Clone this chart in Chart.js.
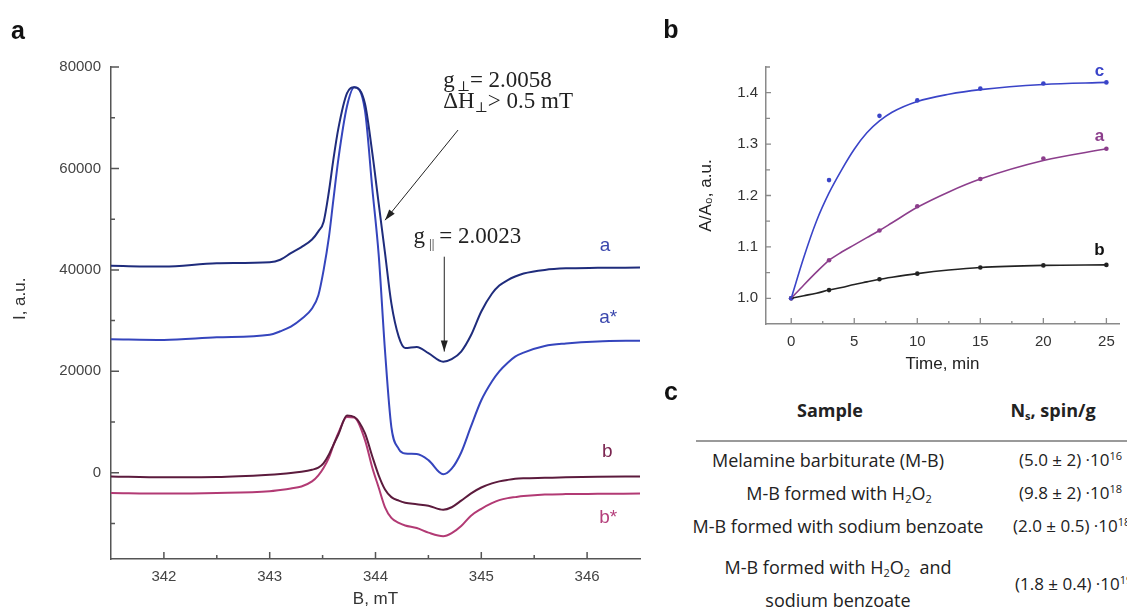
<!DOCTYPE html>
<html><head><meta charset="utf-8">
<script src="https://cdn.jsdelivr.net/npm/chart.js@4/dist/chart.umd.min.js"></script>
<style>
html,body{margin:0;padding:0;background:#fff;width:1127px;height:608px;overflow:hidden;position:relative;font-family:"Liberation Sans",Arial,sans-serif;}
#ca{position:absolute;left:0;top:0;}
#cb{position:absolute;left:660px;top:0;}
.pl{position:absolute;font-weight:bold;font-size:25px;line-height:30px;color:#111;transform:translate(-50%,-50%);}
.tb{position:absolute;font-family:"Open Sans",sans-serif;font-size:17px;line-height:24px;color:#222;white-space:nowrap;}
.r{font-size:18px;}
.c{transform:translate(-50%,-50%);}
.l{transform:translateY(-50%);}
.h{font-weight:bold;font-size:18px;}
.tb sub,.tb sup{font-size:11px;line-height:0;}
.tb sub{vertical-align:-3px;}
.tb sup{vertical-align:6px;}
#rule{position:absolute;left:696px;width:431px;top:440px;height:2px;background:#9a9a9a;}
</style></head>
<body>
<canvas id="ca" width="660" height="625"></canvas>
<canvas id="cb" width="467" height="390"></canvas>
<div class="pl" style="left:18px;top:30px">a</div>
<div class="pl" style="left:671px;top:29px">b</div>
<div class="pl" style="left:671px;top:391px">c</div>

<div class="tb h c" style="left:830px;top:410px">Sample</div>
<div class="tb h c" style="left:1053px;top:410px">N<sub>s</sub>, spin/g</div>
<div id="rule"></div>
<div class="tb r c" style="left:828px;top:460px">Melamine barbiturate (M-B)</div>
<div class="tb l" style="left:1019px;top:460px">(5.0 ± 2) ·10<sup>16</sup></div>
<div class="tb r c" style="left:839px;top:493px">M-B formed with H<sub>2</sub>O<sub>2</sub></div>
<div class="tb l" style="left:1019px;top:493px">(9.8 ± 2) ·10<sup>18</sup></div>
<div class="tb r c" style="left:838px;top:526px">M-B formed with sodium benzoate</div>
<div class="tb l" style="left:1013px;top:526px">(2.0 ± 0.5) ·10<sup>18</sup></div>
<div class="tb r c" style="left:838px;top:567px">M-B formed with H<sub>2</sub>O<sub>2</sub>&nbsp; and</div>
<div class="tb r c" style="left:838px;top:600px">sodium benzoate</div>
<div class="tb l" style="left:1015px;top:584px">(1.8 ± 0.4) ·10<sup>19</sup></div>

<script>
// ---------- Panel a: EPR spectra ----------
const fieldB    = [341.5,342.0,342.5,343.0,343.1,343.2,343.3,343.4,343.46,343.51,343.56,343.6,343.65,343.73,343.8,343.9,343.97,344.03,344.09,344.15,344.22,344.28,344.39,344.5,344.64,344.72,344.81,344.9,345.0,345.1,345.17,345.25,345.32,345.4,345.6,345.8,346.1,346.5];
const specA     = [40800,40650,41300,41500,42000,43300,44500,46000,47600,49500,55500,61500,68000,74800,76000,72800,63000,53100,43300,33400,26800,24600,24800,23600,21900,22400,23900,27000,31800,35300,36900,38000,38700,39300,40000,40300,40400,40450];
const specAstar = [26340,26200,26700,27200,27900,28800,30300,32400,35000,40000,46500,53500,62000,72200,76000,71500,56000,43000,24000,9000,4700,3800,3700,2500,-300,800,4000,9000,14300,18000,20000,21700,22900,23700,25000,25500,25900,26050];
const specBm    = [-730,-900,-850,-400,-250,-60,200,600,1000,1900,3600,5400,7600,11300,11000,7800,3200,-500,-3300,-4800,-5500,-5900,-6200,-6500,-7300,-6800,-5500,-4100,-2900,-2100,-1700,-1400,-1200,-1100,-1000,-900,-800,-730];
const specBstar = [-4000,-4100,-4000,-3650,-3400,-3100,-2700,-1700,-500,1000,3000,5300,7900,11000,10900,6500,1000,-2900,-6800,-8900,-9900,-10400,-10900,-11800,-12500,-11900,-10500,-8500,-7100,-6000,-5400,-5000,-4800,-4600,-4300,-4200,-4150,-4100];
const seriesNamesA = ['a','a*','b','b*'];
const xTicksA = [342,343,344,345,346];
const xMinorA = [342.5,343.5,344.5,345.5];
const yTicksA = [0,20000,40000,60000,80000];
const yMinorA = [-10000,10000,30000,50000,70000];

// ---------- Panel b: kinetics ----------
const timeMin = [0,3,7,10,15,20,25];
const ratioC = [1.0,1.23,1.355,1.385,1.408,1.418,1.42];
const ratioA = [1.0,1.074,1.132,1.179,1.232,1.272,1.291];
const ratioB = [1.0,1.016,1.037,1.048,1.060,1.064,1.065];
const fitTime = [0,1,2,3,4,5,6,7,8,10,12.5,15,20,25];
const fitC = [1.0,1.08,1.15,1.205,1.25,1.29,1.322,1.345,1.362,1.383,1.397,1.406,1.416,1.42];
const fitA = [1.0,1.026,1.051,1.074,1.090,1.104,1.118,1.132,1.147,1.177,1.207,1.232,1.268,1.291];
const fitB = [1.0,1.005,1.010,1.016,1.021,1.027,1.032,1.037,1.041,1.048,1.055,1.060,1.064,1.065];
const seriesNamesB = ['c','a','b'];
const xTicksB = [0,5,10,15,20,25];
const xMinorB = [2.5,7.5,12.5,17.5,22.5];
const yTicksB = [1.0,1.1,1.2,1.3,1.4];
const yMinorB = [1.05,1.15,1.25,1.35,1.45];

Chart.defaults.font.family = '"Liberation Sans", Arial, sans-serif';
Chart.defaults.animation = false;

const pts = (xs, ys) => xs.map((x,i)=>({x:x, y:ys[i]}));

function drawTicks(chart, xMaj, xMin, yMaj, yMin, majLenX, minLenX, majLenY, minLenY, color, width){
  const ctx = chart.ctx, a = chart.chartArea, xs = chart.scales.x, ys = chart.scales.y;
  ctx.save(); ctx.strokeStyle = color; ctx.lineWidth = width;
  ctx.beginPath();
  xMaj.forEach(v=>{const p=xs.getPixelForValue(v); ctx.moveTo(p,a.bottom); ctx.lineTo(p,a.bottom-majLenX);});
  xMin.forEach(v=>{const p=xs.getPixelForValue(v); ctx.moveTo(p,a.bottom); ctx.lineTo(p,a.bottom-minLenX);});
  yMaj.forEach(v=>{const p=ys.getPixelForValue(v); ctx.moveTo(a.left,p); ctx.lineTo(a.left+majLenY,p);});
  yMin.forEach(v=>{const p=ys.getPixelForValue(v); ctx.moveTo(a.left,p); ctx.lineTo(a.left+minLenY,p);});
  ctx.stroke(); ctx.restore();
}
function arrow(ctx, x1,y1,x2,y2){
  ctx.beginPath(); ctx.moveTo(x1,y1); ctx.lineTo(x2,y2); ctx.stroke();
  const ang = Math.atan2(y2-y1,x2-x1), L=11, W=3.5;
  ctx.beginPath(); ctx.moveTo(x2,y2);
  ctx.lineTo(x2-L*Math.cos(ang)+W*Math.sin(ang), y2-L*Math.sin(ang)-W*Math.cos(ang));
  ctx.lineTo(x2-L*Math.cos(ang)-W*Math.sin(ang), y2-L*Math.sin(ang)+W*Math.cos(ang));
  ctx.closePath(); ctx.fill();
}
function rich(ctx, x, y, parts){
  let cx = x;
  parts.forEach(p=>{ ctx.font = p.s+'px "Liberation Serif", "DejaVu Serif", serif'; ctx.fillText(p.t, cx, y+(p.dy||0)); cx += ctx.measureText(p.t).width + (p.g||0); });
}

const colA = ['#1f2c7c','#3545bd','#5c1b3d','#b23a74'];
const labColA = ['#3a47ad','#3a47ad','#7a2550','#b5407c'];
const labPosA = [[346.17,44700],[346.2,30500],[346.19,4100],[346.2,-8900]];

new Chart(document.getElementById('ca'), {
  type:'line',
  data:{ datasets:[specA,specAstar,specBm,specBstar].map((s,i)=>({
    label:seriesNamesA[i], data:pts(fieldB,s), borderColor:colA[i], borderWidth:2,
    pointRadius:0, cubicInterpolationMode:'monotone', fill:false })) },
  options:{
    responsive:false, devicePixelRatio:1,
    layout:{padding:{top:67,right:20,left:0,bottom:0}},
    plugins:{legend:{display:false},tooltip:{enabled:false}},
    scales:{
      x:{type:'linear',min:341.5,max:346.5,
        afterBuildTicks:s=>{s.ticks = xTicksA.map(v=>({value:v}));},
        afterFit:s=>{s.height=66;},
        ticks:{font:{size:15},color:'#444',padding:9,maxRotation:0,autoSkip:false,callback:v=>String(v)},
        grid:{display:false,drawTicks:false}, border:{display:true,color:'#555',width:1.5},
        title:{display:true,text:'B, mT',font:{size:17},color:'#333',padding:{top:0,bottom:15}}},
      y:{type:'linear',min:-17000,max:80000,
        afterBuildTicks:s=>{s.ticks = yTicksA.map(v=>({value:v}));},
        afterFit:s=>{s.width=111;},
        ticks:{font:{size:15},color:'#444',padding:10,callback:v=>String(v)},
        grid:{display:false,drawTicks:false}, border:{display:true,color:'#555',width:1.5},
        title:{display:true,text:'\u00A0\u00A0\u00A0\u00A0\u00A0\u00A0I, a.u.',font:{size:17},color:'#333',padding:{top:10,bottom:0}}}
    }
  },
  plugins:[{id:'decorA', afterDraw(chart){
    drawTicks(chart, xTicksA, xMinorA, yTicksA, yMinorA, 7, 4, 8, 4, '#555', 1.5);
    const ctx = chart.ctx, xs = chart.scales.x, ys = chart.scales.y;
    ctx.save();
    ctx.textAlign='center'; ctx.textBaseline='middle'; ctx.font='19px "Liberation Sans", Arial, sans-serif';
    labPosA.forEach((p,i)=>{ ctx.fillStyle=labColA[i]; ctx.fillText(seriesNamesA[i], xs.getPixelForValue(p[0]), ys.getPixelForValue(p[1])); });
    ctx.fillStyle='#222'; ctx.strokeStyle='#222'; ctx.lineWidth=1;
    ctx.textAlign='left'; ctx.textBaseline='alphabetic';
    rich(ctx, xs.getPixelForValue(344.64), ys.getPixelForValue(76000), [{t:'g',s:23,g:2},{t:'\u22A5',s:14,dy:4},{t:'= 2.0058',s:23}]);
    rich(ctx, xs.getPixelForValue(344.64), ys.getPixelForValue(72000), [{t:'\u0394H',s:23},{t:'\u22A5',s:14,dy:4},{t:'> 0.5 mT',s:23}]);
    rich(ctx, xs.getPixelForValue(344.36), ys.getPixelForValue(45300), [{t:'g',s:23,g:4},{t:'||',s:13,dy:5,g:5},{t:'= 2.0023',s:23}]);
    arrow(ctx, xs.getPixelForValue(344.78), ys.getPixelForValue(67570), xs.getPixelForValue(344.09), ys.getPixelForValue(49800));
    arrow(ctx, xs.getPixelForValue(344.65), ys.getPixelForValue(42600), xs.getPixelForValue(344.65), ys.getPixelForValue(23900));
    ctx.restore();
  }}]
});

const colB = ['#3a44c8','#8c3e8c','#222222'];
const labPosB = [[24.45,1.442],[24.45,1.315],[24.45,1.094]];
new Chart(document.getElementById('cb'), {
  type:'line',
  data:{ datasets:[
    ...[fitC,fitA,fitB].map((s,i)=>({label:seriesNamesB[i]+' fit', data:pts(fitTime,s), borderColor:colB[i], borderWidth:1.6, pointRadius:0, cubicInterpolationMode:'monotone', fill:false})),
    ...[ratioC,ratioA,ratioB].map((s,i)=>({label:seriesNamesB[i], data:pts(timeMin,s), showLine:false, pointRadius:2.3, pointBackgroundColor:colB[i], pointBorderColor:colB[i], pointBorderWidth:0}))
  ]},
  options:{
    responsive:false, devicePixelRatio:1,
    layout:{padding:{top:67,right:8,left:0,bottom:0}},
    plugins:{legend:{display:false},tooltip:{enabled:false}},
    scales:{
      x:{type:'linear',min:-2,max:26,
        afterBuildTicks:s=>{s.ticks = xTicksB.map(v=>({value:v}));},
        afterFit:s=>{s.height=66;},
        ticks:{font:{size:15},color:'#333',padding:9,maxRotation:0,autoSkip:false,callback:v=>String(v)},
        grid:{display:false,drawTicks:false}, border:{display:true,color:'#8a8a8a',width:1.5},
        title:{display:true,text:'Time, min',font:{size:17},color:'#222',padding:{top:0,bottom:15}}},
      y:{type:'linear',min:0.95,max:1.45,
        afterBuildTicks:s=>{s.ticks = yTicksB.map(v=>({value:v}));},
        afterFit:s=>{s.width=106;},
        ticks:{font:{size:15},color:'#333',padding:8,callback:v=>Number(v).toFixed(1)},
        grid:{display:false,drawTicks:false}, border:{display:true,color:'#8a8a8a',width:1.5},
        title:{display:true,text:'A/A\u2080, a.u.',font:{size:17},color:'#222',padding:{top:36,bottom:0}}}
    }
  },
  plugins:[{id:'decorB', afterDraw(chart){
    drawTicks(chart, xTicksB, xMinorB, yTicksB, yMinorB, 6, 3, 5, 4, '#8a8a8a', 1.3);
    const ctx = chart.ctx, xs = chart.scales.x, ys = chart.scales.y;
    ctx.save(); ctx.textAlign='center'; ctx.textBaseline='middle'; ctx.font='bold 17px "Liberation Sans", Arial, sans-serif';
    labPosB.forEach((p,i)=>{ ctx.fillStyle = i===2 ? '#111' : colB[i]; ctx.fillText(seriesNamesB[i], xs.getPixelForValue(p[0]), ys.getPixelForValue(p[1])); });
    ctx.restore();
  }}]
});
</script>
</body></html>
